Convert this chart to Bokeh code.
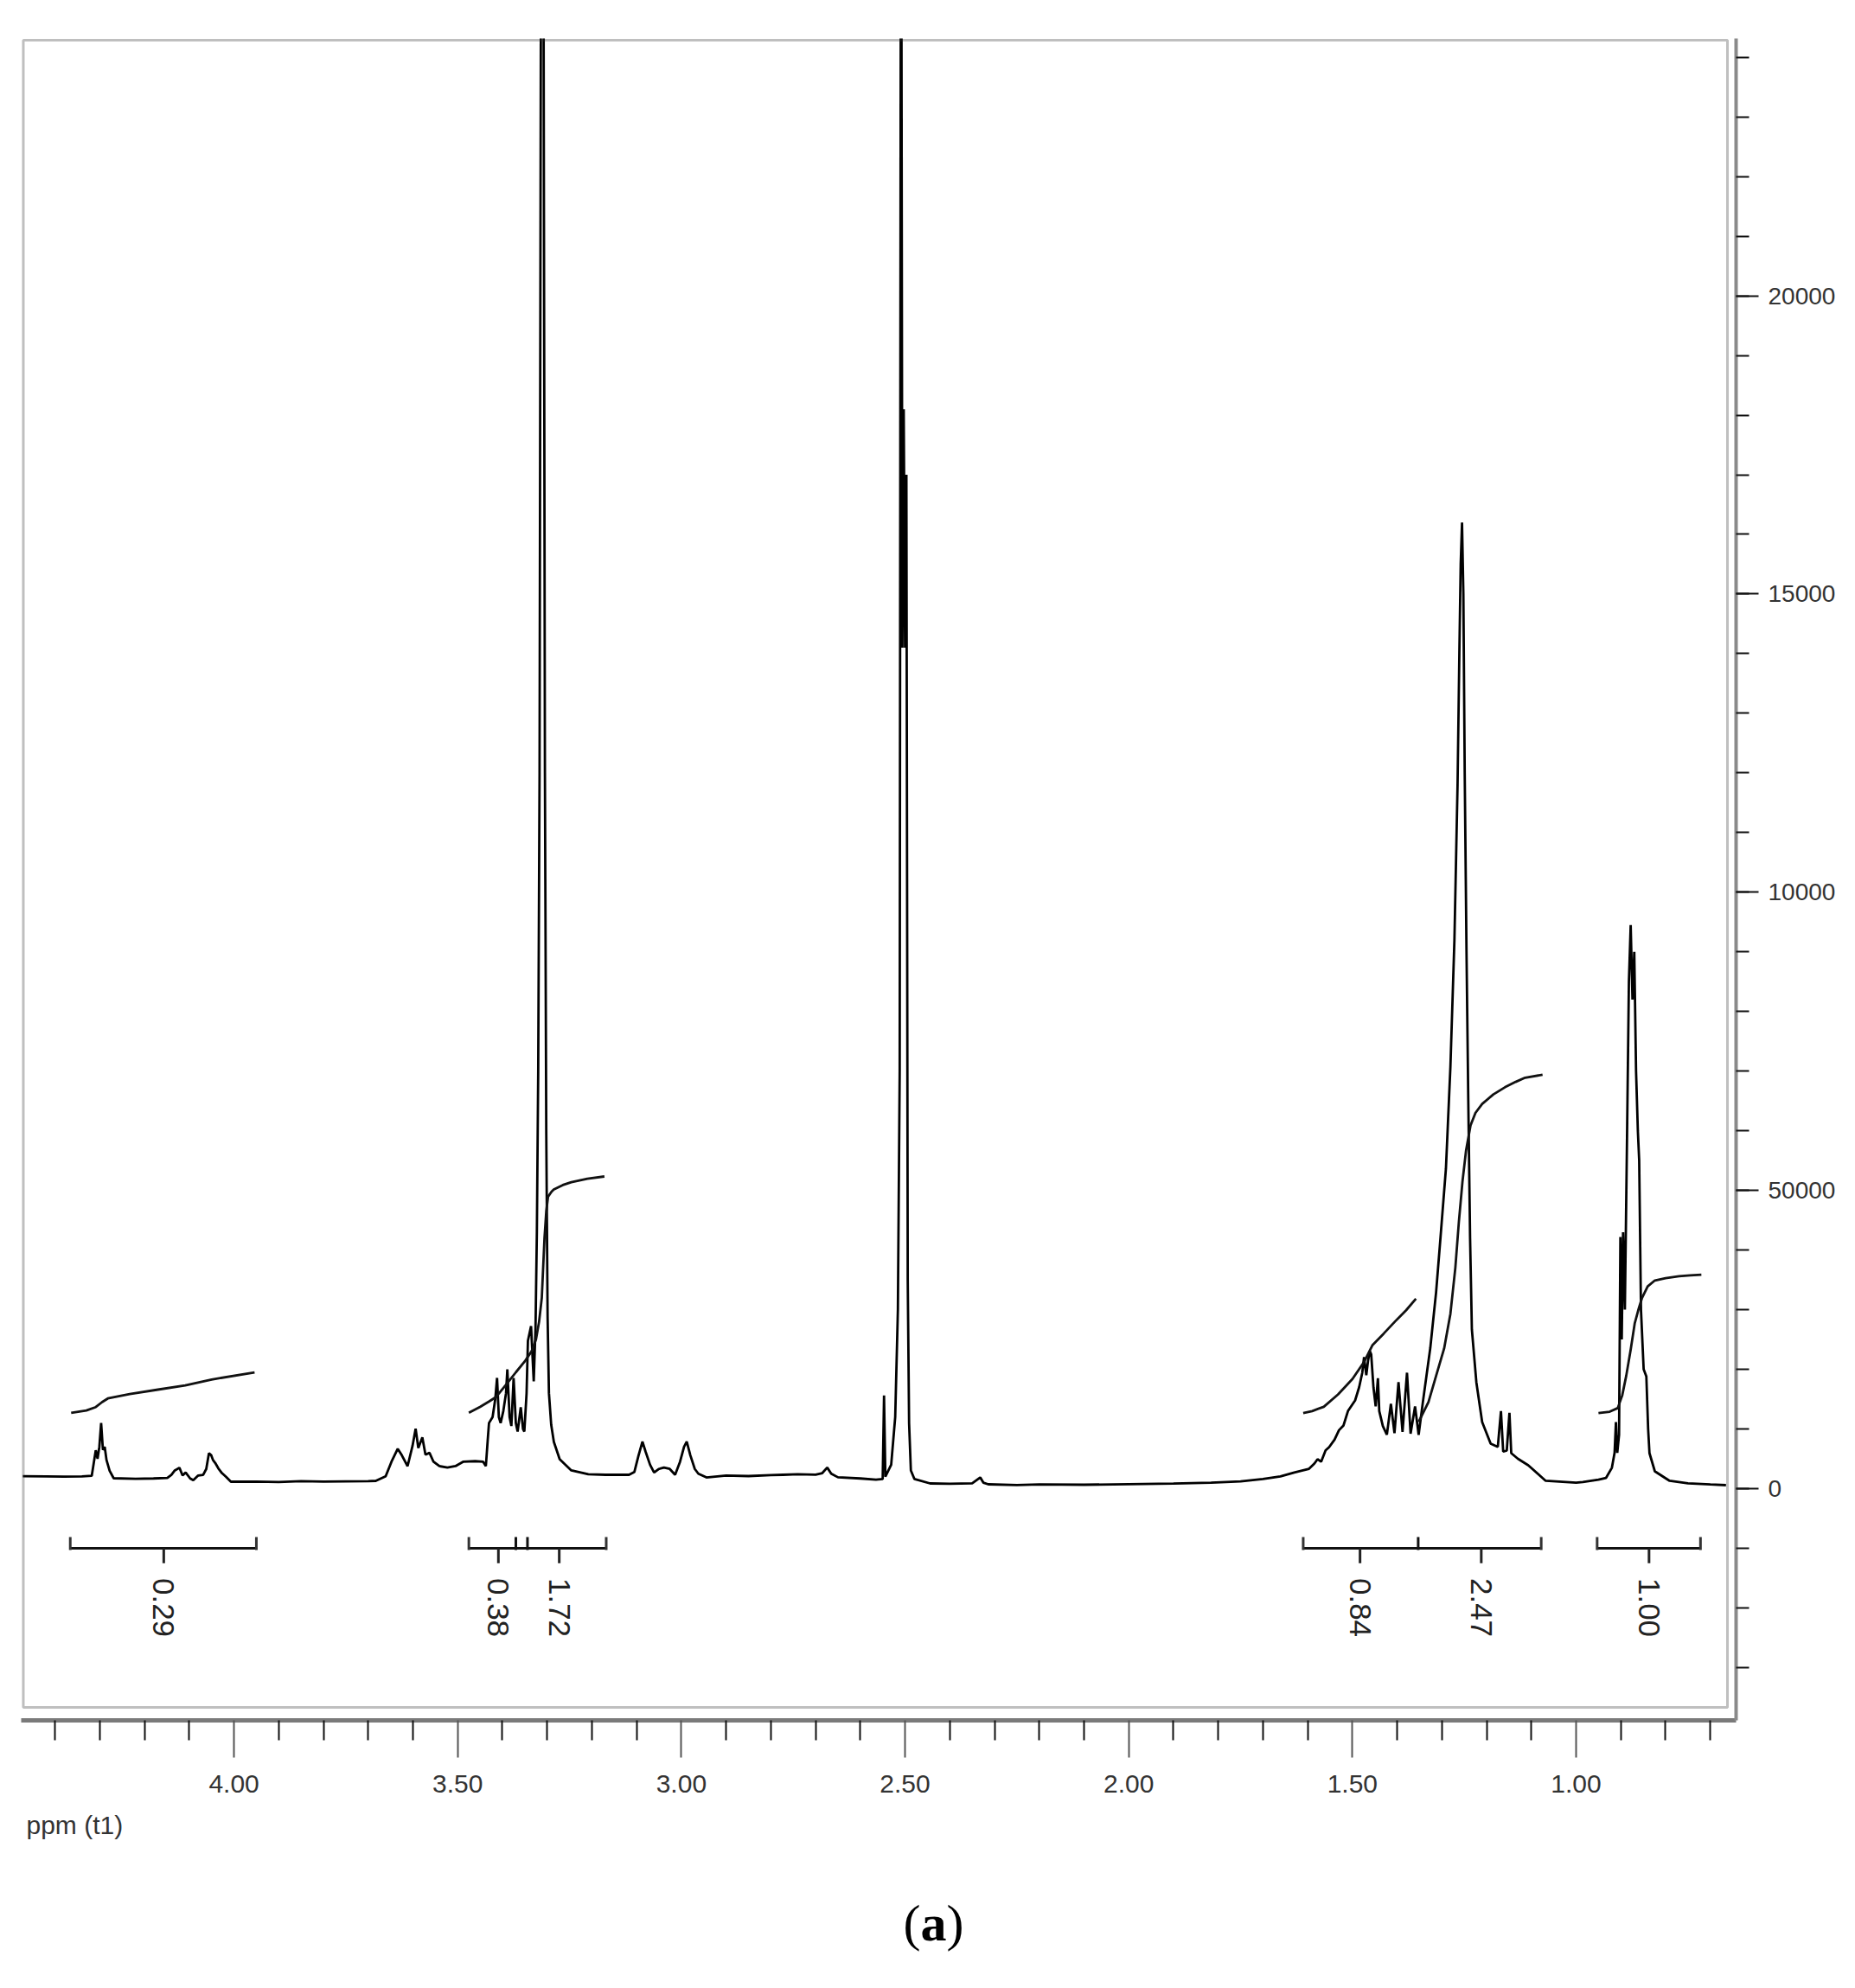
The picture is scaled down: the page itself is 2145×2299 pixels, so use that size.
import numpy as np
from bokeh.plotting import figure
from bokeh.layouts import column
from bokeh.models import Range1d, FixedTicker, BoxAnnotation, Label
from bokeh.embed import file_html
from bokeh.resources import INLINE
from bokeh.core.properties import value

# ---------------- data ----------------
spec_ppm = [4.472, 4.420, 4.380, 4.340, 4.318, 4.309, 4.305, 4.301, 4.297, 4.293, 4.289, 4.285, 4.278, 4.269,
            4.220, 4.180, 4.149, 4.140, 4.133, 4.122, 4.115, 4.108, 4.098, 4.091, 4.080, 4.069, 4.062, 4.056,
            4.051, 4.047, 4.042, 4.035, 4.027, 4.018, 4.007, 3.950, 3.900, 3.850, 3.800, 3.750, 3.700, 3.683,
            3.661, 3.648, 3.634, 3.625, 3.612, 3.601, 3.594, 3.588, 3.579, 3.572, 3.563, 3.554, 3.541, 3.523,
            3.505, 3.488, 3.461, 3.443, 3.437, 3.433, 3.430, 3.422, 3.416, 3.412, 3.408, 3.404, 3.398, 3.392,
            3.389, 3.384, 3.380, 3.375, 3.370, 3.366, 3.359, 3.354, 3.351, 3.346, 3.343, 3.336, 3.330, 3.326,
            3.323, 3.320, 3.317, 3.314, 3.311, 3.308, 3.305, 3.302, 3.299, 3.296, 3.291, 3.285, 3.272, 3.246,
            3.208, 3.169, 3.117, 3.105, 3.096, 3.087, 3.080, 3.070, 3.061, 3.050, 3.039, 3.026, 3.014, 3.003,
            2.994, 2.988, 2.980, 2.970, 2.962, 2.944, 2.900, 2.850, 2.800, 2.773, 2.740, 2.700, 2.685, 2.674,
            2.665, 2.650, 2.600, 2.565, 2.550, 2.547, 2.544, 2.531, 2.522, 2.516, 2.512, 2.509, 2.506, 2.503,
            2.500, 2.497, 2.494, 2.491, 2.487, 2.479, 2.444, 2.400, 2.350, 2.332, 2.325, 2.314, 2.250, 2.200,
            2.100, 2.000, 1.900, 1.816, 1.750, 1.700, 1.661, 1.630, 1.597, 1.585, 1.578, 1.570, 1.560, 1.552,
            1.540, 1.530, 1.520, 1.510, 1.494, 1.485, 1.478, 1.474, 1.469, 1.465, 1.461, 1.458, 1.453, 1.448,
            1.443, 1.440, 1.432, 1.423, 1.414, 1.406, 1.397, 1.388, 1.378, 1.370, 1.360, 1.352, 1.342, 1.326,
            1.313, 1.303, 1.291, 1.281, 1.272, 1.265, 1.261, 1.258, 1.255, 1.252, 1.249, 1.245, 1.241, 1.237,
            1.233, 1.223, 1.210, 1.191, 1.175, 1.168, 1.163, 1.155, 1.149, 1.145, 1.130, 1.107, 1.068, 1.000,
            0.985, 0.950, 0.933, 0.920, 0.914, 0.911, 0.908, 0.904, 0.901, 0.898, 0.895, 0.891, 0.886, 0.882,
            0.878, 0.874, 0.870, 0.866, 0.862, 0.859, 0.855, 0.849, 0.843, 0.839, 0.836, 0.824, 0.791, 0.750,
            0.700, 0.665]
spec_val = [207, 205, 200, 205, 215, 643, 500, 700, 1102, 650, 700, 480, 300, 174,
            165, 170, 180, 230, 300, 350, 220, 270, 170, 140, 220, 230, 330, 594,
            560, 480, 430, 340, 260, 200, 116, 118, 110, 125, 118, 122, 125, 130,
            207, 450, 667, 560, 377, 715, 1005, 680, 860, 570, 600, 450, 377, 353,
            377, 450, 460, 450, 377, 800, 1100, 1200, 1500, 1856, 1200, 1100, 1300, 1600,
            2000, 1200, 1050, 1856, 1100, 957, 1363, 1000, 957, 1600, 2480, 2726, 1800, 2700,
            4300, 7000, 12000, 25000, 40000, 25000, 12000, 6000, 2870, 1600, 1073, 783, 493, 305,
            240, 232, 232, 280, 550, 788, 620, 400, 270, 330, 353, 330, 232, 450,
            700, 788, 560, 330, 250, 188, 220, 210, 225, 232, 240, 235, 260, 353,
            250, 190, 170, 150, 160, 1561, 200, 400, 1200, 3000, 7000, 30000, 14100, 18100,
            14100, 17000, 3500, 1100, 305, 160, 87, 80, 90, 188, 100, 72, 60, 70,
            65, 75, 85, 100, 120, 160, 206, 270, 333, 420, 493, 450, 640, 696,
            820, 980, 1058, 1300, 1479, 1700, 1943, 2204, 1900, 2150, 2306, 2250, 1700, 1378,
            1850, 1300, 1050, 905, 1421, 930, 1784, 950, 1943, 920, 1378, 900, 1480, 2355,
            3290, 4220, 5365, 7067, 9200, 11800, 14000, 15500, 16200, 15000, 12000, 9000, 6500, 4200,
            2668, 1784, 1117, 754, 700, 1300, 620, 640, 1270, 594, 500, 392, 131, 100,
            110, 150, 180, 350, 600, 1117, 600, 900, 4220, 2500, 4300, 3000, 6000, 8500,
            9450, 8200, 9000, 7000, 6000, 5500, 3000, 2000, 1880, 1000, 594, 290, 131, 90,
            70, 58]

# integral curves
int1_ppm = [4.364, 4.330, 4.309, 4.295, 4.282, 4.233, 4.170, 4.109, 4.050, 3.954]
int1_val = [1271, 1310, 1367, 1450, 1512, 1585, 1660, 1730, 1830, 1947]
int2_ppm = [3.475, 3.450, 3.430, 3.414, 3.390, 3.370, 3.349, 3.335, 3.325, 3.318, 3.312, 3.306,
            3.302, 3.298, 3.290, 3.285, 3.265, 3.246, 3.210, 3.172]
int2_val = [1271, 1370, 1460, 1537, 1760, 1950, 2145, 2300, 2500, 2800, 3200, 4200,
            4650, 4896, 4980, 5017, 5090, 5138, 5195, 5234]
int4_ppm = [1.610, 1.590, 1.564, 1.532, 1.500, 1.474, 1.455, 1.430, 1.405, 1.380, 1.358]
int4_val = [1267, 1300, 1372, 1580, 1837, 2123, 2407, 2600, 2800, 2990, 3184]
int5_ppm = [1.352, 1.330, 1.313, 1.295, 1.281, 1.270, 1.262, 1.254, 1.246, 1.236, 1.225, 1.210,
            1.185, 1.159, 1.135, 1.114, 1.075]
int5_val = [1117, 1450, 1890, 2350, 2930, 3700, 4480, 5150, 5670, 6090, 6300, 6450,
            6610, 6730, 6820, 6890, 6940]
int6_ppm = [0.950, 0.925, 0.907, 0.897, 0.888, 0.878, 0.869, 0.860, 0.853, 0.840, 0.824, 0.800,
            0.770, 0.745, 0.720]
int6_val = [1267, 1290, 1350, 1560, 1890, 2330, 2770, 3020, 3190, 3390, 3490, 3530,
            3560, 3575, 3587]

# integration brackets
bracket_start = [4.366, 3.475, 1.610, 0.953]
bracket_end = [3.950, 3.168, 1.078, 0.722]
bracket_dividers = [3.370, 3.344, 1.353]
integral_labels = ["0.29", "0.38", "1.72", "0.84", "2.47", "1.00"]
integral_label_ppm = [4.157, 3.409, 3.273, 1.483, 1.212, 0.837]

# axes
x_tick_values = [4.0, 3.5, 3.0, 2.5, 2.0, 1.5, 1.0]
x_tick_labels = ["4.00", "3.50", "3.00", "2.50", "2.00", "1.50", "1.00"]
x_minor_ticks = [4.4, 4.3, 4.2, 4.1, 3.9, 3.8, 3.7, 3.6, 3.4, 3.3, 3.2, 3.1, 2.9, 2.8, 2.7, 2.6,
                 2.4, 2.3, 2.2, 2.1, 1.9, 1.8, 1.7, 1.6, 1.4, 1.3, 1.2, 1.1, 0.9, 0.8, 0.7]
y_tick_values = [0, 5000, 10000, 15000, 20000]
y_tick_labels = ["0", "50000", "10000", "15000", "20000"]
y_minor_ticks = list(range(-3000, 25000, 1000))

x_axis_title = "ppm (t1)"
panel_caption = "a"

# ---------------- main figure ----------------
W = 2137
H_MAIN = 2092
LEFT, RIGHT = 24, 2007          # frame edges in page pixels
X0, X1 = 4.4757, 0.6424
Y0, Y1 = -3886, 24315

p = figure(width=W, height=H_MAIN,
           min_border_left=LEFT, min_border_top=44, min_border_right=W - RIGHT, min_border_bottom=103,
           x_range=Range1d(X0, X1), y_range=Range1d(Y0, Y1),
           x_axis_location="below", y_axis_location="right",
           output_backend="svg", toolbar_location=None, title=None,
           background_fill_color="white", border_fill_color="white")
p.grid.visible = False
p.outline_line_color = None

# inner box (the spectrum frame)
box = BoxAnnotation(left=4.4709, right=0.6617, top=24286, bottom=-3668,
                    fill_alpha=0, fill_color=None, line_color="#2a2a2a", line_width=3)
p.add_layout(box)

# y axis
yax = p.yaxis[0]
yax.ticker = FixedTicker(ticks=y_tick_values, minor_ticks=y_minor_ticks)
yax.major_label_overrides = {v: t for v, t in zip(y_tick_values, y_tick_labels)}
yax.axis_line_color = "#8a8a8a"
yax.axis_line_width = 4
yax.major_tick_line_color = "#111111"
yax.major_tick_line_width = 2
yax.minor_tick_line_color = "#111111"
yax.minor_tick_line_width = 2
yax.major_tick_out = 26
yax.major_tick_in = 0
yax.minor_tick_out = 15
yax.minor_tick_in = 0
yax.major_label_standoff = 11
yax.major_label_text_font = "Liberation Sans"
yax.major_label_text_font_size = "28px"
yax.major_label_text_color = "#333333"

# x axis
xax = p.xaxis[0]
xax.ticker = FixedTicker(ticks=x_tick_values, minor_ticks=x_minor_ticks)
xax.major_label_overrides = {v: t for v, t in zip(x_tick_values, x_tick_labels)}
xax.axis_line_color = "#7a7a7a"
xax.axis_line_width = 5
xax.major_tick_line_color = "#555555"
xax.major_tick_line_width = 2
xax.minor_tick_line_color = "#111111"
xax.minor_tick_line_width = 2
xax.major_tick_out = 43
xax.major_tick_in = 0
xax.minor_tick_out = 23
xax.minor_tick_in = 0
xax.major_label_standoff = 20
xax.major_label_text_font = "Liberation Sans"
xax.major_label_text_font_size = "30px"
xax.major_label_text_color = "#333333"

# spectrum
p.line(spec_ppm, spec_val, line_color="black", line_width=2.8)

# integral curves
for xs, ys in [(int1_ppm, int1_val), (int2_ppm, int2_val), (int4_ppm, int4_val),
               (int5_ppm, int5_val), (int6_ppm, int6_val)]:
    p.line(xs, ys, line_color="#111111", line_width=2.8)

# brackets
BR_Y = -1000
CAP_TOP = -812
CAP_BOT = -1030
TICK_BOT = -1250
LABEL_Y = -1500
p.segment(x0=bracket_start, y0=[BR_Y] * len(bracket_start), x1=bracket_end, y1=[BR_Y] * len(bracket_end),
          line_color="#111111", line_width=3)
caps = bracket_start + bracket_end
p.segment(x0=caps, y0=[CAP_TOP] * len(caps), x1=caps, y1=[CAP_BOT] * len(caps),
          line_color="#333333", line_width=3)
p.segment(x0=bracket_dividers, y0=[CAP_TOP] * len(bracket_dividers), x1=bracket_dividers,
          y1=[CAP_BOT] * len(bracket_dividers), line_color="#111111", line_width=3)
p.segment(x0=integral_label_ppm, y0=[BR_Y] * len(integral_label_ppm), x1=integral_label_ppm,
          y1=[TICK_BOT] * len(integral_label_ppm), line_color="#222222", line_width=3)
p.text(x=integral_label_ppm, y=[LABEL_Y] * len(integral_label_ppm), text=integral_labels,
       angle=-np.pi / 2, text_align="left", text_baseline="middle",
       text_font=value("Liberation Sans"), text_font_size="35px", text_color="#222222")

# ---------------- caption strip ----------------
# the column aligns this strip's frame with the main frame (LEFT..RIGHT page pixels)
H_CAP = 191
q = figure(width=W, height=H_CAP, min_border=0,
           x_range=Range1d(LEFT, RIGHT), y_range=Range1d(0, H_CAP),
           x_axis_location=None, y_axis_location=None,
           output_backend="svg", toolbar_location=None, title=None,
           background_fill_color="white", border_fill_color="white")
q.grid.visible = False
q.outline_line_color = None

q.add_layout(Label(x=30, y=H_CAP - 1, text=x_axis_title, text_align="left", text_baseline="top",
                   text_font="Liberation Sans", text_font_size="30px", text_color="#333333"))
CAP_X = 1079
CAP_Y = H_CAP - 131
q.add_layout(Label(x=CAP_X, y=CAP_Y, text="(", x_offset=-15, text_align="right", text_baseline="middle",
                   text_font="Liberation Serif", text_font_size="60px", text_color="black"))
q.add_layout(Label(x=CAP_X, y=CAP_Y, text=panel_caption, text_align="center", text_baseline="middle",
                   text_font="Liberation Serif", text_font_style="bold", text_font_size="60px",
                   text_color="black"))
q.add_layout(Label(x=CAP_X, y=CAP_Y, text=")", x_offset=15, text_align="left", text_baseline="middle",
                   text_font="Liberation Serif", text_font_size="60px", text_color="black"))

layout = column(p, q, spacing=0)
open("out.html", "w").write(file_html(layout, INLINE))
